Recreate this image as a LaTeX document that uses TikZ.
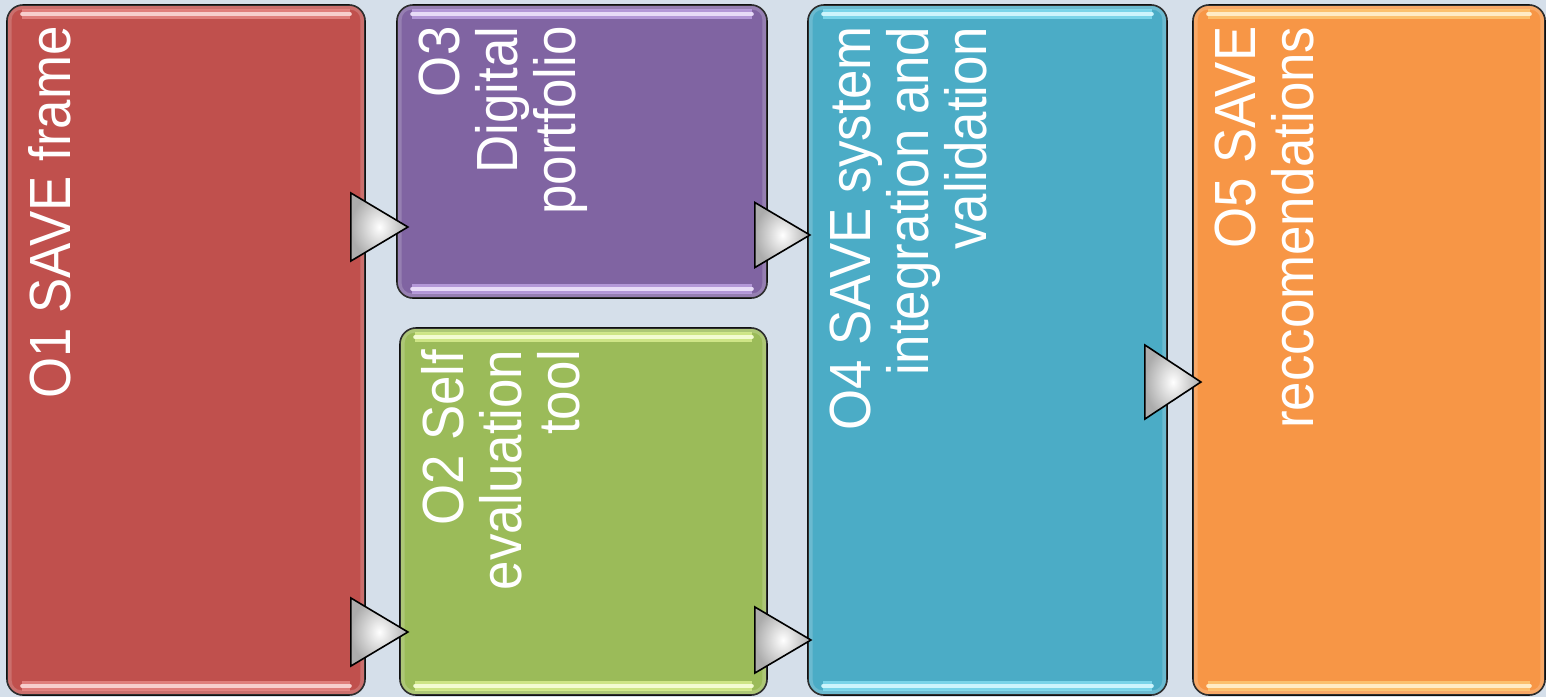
\documentclass[tikz,border=0pt]{standalone}
\usepackage{fontspec}
\setmainfont{Liberation Sans}
\usetikzlibrary{calc,shapes.geometric}
\definecolor{bgblue}{HTML}{D5DFEA}
\definecolor{o1red}{HTML}{C0504D}
\definecolor{o3violet}{HTML}{8064A2}
\definecolor{o2green}{HTML}{9BBB59}
\definecolor{o4blue}{HTML}{4BACC6}
\definecolor{o5orange}{HTML}{F79646}
\definecolor{o1glow}{HTML}{EE9290}
\definecolor{o3glow}{HTML}{C9AEEE}
\definecolor{o2glow}{HTML}{E4F79A}
\definecolor{o4glow}{HTML}{8FE6F8}
\definecolor{o5glow}{HTML}{FFD27E}
\tikzset{
	objbox/.style={draw=black, line width=0.8pt, rounded corners=8pt, inner sep=0pt},
	rim/.style={draw=white, opacity=0.18, line width=2.5pt, rounded corners=6pt},
	objtext/.style={text=white, anchor=north east, rotate=90, yscale=1.1, align=right,
			inner sep=0pt, font=\fontsize{26.4}{26.4}\selectfont},
	tri/.style={isosceles triangle, isosceles triangle stretches, anchor=apex,
			draw=black, line width=0.8pt, inner sep=0pt,
			shading=radial, inner color=white, outer color=gray!65},
	shine/.style={draw=white!55!#1, line cap=round, line width=2pt,
			preaction={draw=#1, line width=5pt, opacity=0.7}}
}

\begin{document}
\begin{tikzpicture}[x=0.5pt,y=-0.5pt]
        \useasboundingbox (0,0) rectangle (1546,697);
        \fill[bgblue] (0,0) rectangle (1546,697);

        % Boxes
        \node[objbox, fill=o1red, minimum width=179pt, minimum height=345pt] (o1) at (186,350) {};
        \node[objbox, fill=o3violet, minimum width=185pt, minimum height=146.5pt] (o3) at (582,151.5) {};
        \node[objbox, fill=o2green, minimum width=183.5pt, minimum height=183.5pt] (o2) at (583.5,511.5) {};
        \node[objbox, fill=o4blue, minimum width=179.5pt, minimum height=345pt] (o4) at (987.5,350) {};
        \node[objbox, fill=o5orange, minimum width=176pt, minimum height=345pt] (o5) at (1369,350) {};

        % Soft inner rims
        \draw[rim] ($(o1.north west)+(3,3)$) rectangle ($(o1.south east)+(-3,-3)$);
        \draw[rim] ($(o3.north west)+(3,3)$) rectangle ($(o3.south east)+(-3,-3)$);
        \draw[rim] ($(o2.north west)+(3,3)$) rectangle ($(o2.south east)+(-3,-3)$);
        \draw[rim] ($(o4.north west)+(3,3)$) rectangle ($(o4.south east)+(-3,-3)$);
        \draw[rim] ($(o5.north west)+(3,3)$) rectangle ($(o5.south east)+(-3,-3)$);

        % Highlights
        \draw[shine=o1glow] ($(o1.north west)+(16,10)$) -- ($(o1.north east)+(-16,10)$);
        \draw[shine=o1glow] ($(o1.south west)+(16,-10)$) -- ($(o1.south east)+(-16,-10)$);
        \draw[shine=o3glow] ($(o3.north west)+(16,10)$) -- ($(o3.north east)+(-16,10)$);
        \draw[shine=o3glow] ($(o3.south west)+(16,-10)$) -- ($(o3.south east)+(-16,-10)$);
        \draw[shine=o2glow] ($(o2.north west)+(16,10)$) -- ($(o2.north east)+(-16,10)$);
        \draw[shine=o2glow] ($(o2.south west)+(16,-10)$) -- ($(o2.south east)+(-16,-10)$);
        \draw[shine=o4glow] ($(o4.north west)+(16,10)$) -- ($(o4.north east)+(-16,10)$);
        \draw[shine=o4glow] ($(o4.south west)+(16,-10)$) -- ($(o4.south east)+(-16,-10)$);
        \draw[shine=o5glow] ($(o5.north west)+(16,10)$) -- ($(o5.north east)+(-16,10)$);
        \draw[shine=o5glow] ($(o5.south west)+(16,-10)$) -- ($(o5.south east)+(-16,-10)$);

        % Labels
        \node[objtext] (o1txt) at ($(o1.north west)+(22,22)$) {O1 SAVE frame};
        \node[objtext] (o3txt) at ($(o3.north west)+(22,22)$) {O3\\Digital\\portfolio};
        \node[objtext] (o2txt) at ($(o2.north west)+(22,22)$) {O2 Self\\evaluation\\tool};
        \node[objtext] (o4txt) at ($(o4.north west)+(22,22)$) {O4 SAVE system\\integration and\\validation};
        \node[objtext] (o5txt) at ($(o5.north west)+(22,22)$) {O5 SAVE\\reccomendations};

        % Arrows between boxes
        \node[tri, minimum width=34pt, minimum height=28.5pt] (t13) at (410,227) {};
        \node[tri, minimum width=34pt, minimum height=28.5pt] (t12) at (410,632) {};
        \node[tri, minimum width=32.5pt, minimum height=27.5pt] (t34) at (812,235) {};
        \node[tri, minimum width=33pt, minimum height=28pt] (t24) at (813,640) {};
        \node[tri, minimum width=37pt, minimum height=28pt] (t45) at (1203,382) {};
    \end{tikzpicture}
\end{document}
